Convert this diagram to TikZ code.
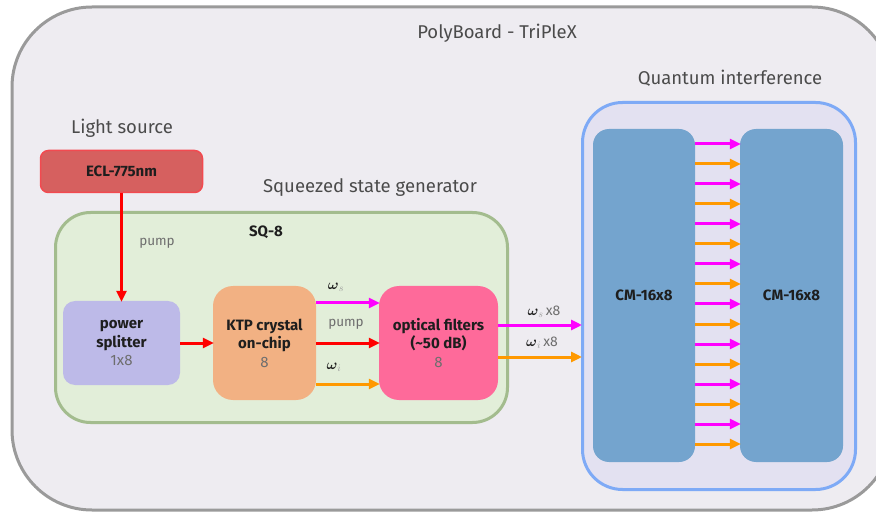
\documentclass[tikz,border=0pt]{standalone}
\usepackage{fontspec}
\setmainfont{Fira Sans}
\usepackage{amsmath}
\usetikzlibrary{arrows.meta,calc}

\definecolor{boardfill}{HTML}{EEECF1}
\definecolor{boardline}{HTML}{9A9A9A}
\definecolor{sqfill}{HTML}{E2EED9}
\definecolor{sqline}{HTML}{A3BC8E}
\definecolor{eclfill}{HTML}{D6605F}
\definecolor{eclline}{HTML}{F24A50}
\definecolor{psfill}{HTML}{BDBAE8}
\definecolor{ktpfill}{HTML}{F2B183}
\definecolor{filtfill}{HTML}{FE6A9A}
\definecolor{qifill}{HTML}{E3E1F1}
\definecolor{qiline}{HTML}{7EAAF6}
\definecolor{cmfill}{HTML}{74A4CE}
\definecolor{sigcol}{HTML}{FF00FF}
\definecolor{idlcol}{HTML}{FF9900}
\definecolor{pumpcol}{HTML}{FF0000}
\definecolor{txtdark}{HTML}{1E1E1E}
\definecolor{txtgray}{HTML}{6E6E6E}

\tikzset{
  block/.style={inner sep=0pt, align=center, text=txtdark,
    font=\fontsize{15}{18.5}\selectfont\bfseries},
  title/.style={inner sep=0pt, text=txtdark!80, font=\fontsize{18.5}{22}\selectfont},
  small/.style={inner sep=0pt, text=txtgray, font=\fontsize{13.5}{16}\selectfont},
  wlab/.style={inner sep=0pt, text=txtdark, font=\fontsize{14}{16}\selectfont},
  beam/.style={line width=3pt, -{Triangle[length=11pt,width=10pt]}, shorten >=-1pt},
  sig/.style={beam, draw=sigcol},
  idl/.style={beam, draw=idlcol},
  pmp/.style={beam, draw=pumpcol},
}
\newcommand{\numtxt}[1]{{\mdseries\color{txtgray}#1}}
\newcommand{\wsub}[1]{$\boldsymbol{\omega}_{\textcolor{txtgray!70}{\scriptstyle #1}}$}

\begin{document}
\begin{tikzpicture}[x=1pt,y=-1pt]
\useasboundingbox (0,0) rectangle (876,513);
\fill[white] (0,0) rectangle (876,513);

% the board outline runs past the right edge
\begin{scope}
  \clip (0,0) rectangle (876,513);
  \draw[line width=3pt, draw=boardline, fill=boardfill, rounded corners=80pt]
    (12,7) rectangle (892,510);
\end{scope}
\node[title] (board) at (497,33) {PolyBoard - TriPleX};

% light source
\node[title] (lslabel) at (122,128) {Light source};
\node[block, draw=eclline, line width=1.5pt, fill=eclfill, rounded corners=8pt,
      minimum width=162pt, minimum height=42pt] (ecl) at (121.5,171.5) {ECL-775nm};

% squeezed state generator
\node[title] (sqlabel) at (370,188) {Squeezed state generator};
\node[draw=sqline, line width=3pt, fill=sqfill, rounded corners=35pt,
      minimum width=452pt, minimum height=210pt] (sq) at (281.5,317.5) {};
\node[block] (sqname) at (266,232) {SQ-8};

\node[block, fill=psfill, rounded corners=12pt,
      minimum width=117pt, minimum height=84pt] (ps) at (121.5,343)
      {power\\splitter\\\numtxt{1x8}};
\node[block, fill=ktpfill, rounded corners=20pt,
      minimum width=103pt, minimum height=114pt] (ktp) at (264.5,343)
      {KTP crystal\\on-chip\\\numtxt{8}};
\node[block, fill=filtfill, rounded corners=20pt,
      minimum width=119pt, minimum height=114pt] (filt) at (438.5,343)
      {optical filters\\(\textasciitilde50 dB)\\\numtxt{8}};

% quantum interference
\node[title] (qilabel) at (730,78) {Quantum interference};
\node[draw=qiline, line width=3pt, fill=qifill, rounded corners=40pt,
      minimum width=273pt, minimum height=387pt] (qi) at (719,296) {};
\node[block, fill=cmfill, rounded corners=16pt,
      minimum width=102pt, minimum height=333pt] (cmL) at (644,295.5) {CM-16x8};
\node[block, fill=cmfill, rounded corners=16pt,
      minimum width=103pt, minimum height=333pt] (cmR) at (791.5,295.5) {CM-16x8};

% pump path
\draw[pmp] (ecl.south) -- (ps.north);
\node[small] (pumpA) at (157,243) {pump};
\draw[pmp] (ps.east) -- (ktp.west);

% KTP -> filters
\coordinate (ks) at (ktp.east |- 0,303);
\coordinate (kp) at (ktp.east |- 0,343);
\coordinate (ki) at (ktp.east |- 0,384);
\draw[sig] (ks) -- (filt.west |- ks);
\draw[pmp] (kp) -- (filt.west |- kp);
\draw[idl] (ki) -- (filt.west |- ki);
\node[wlab] (ws1) at (336,287) {\wsub{s}};
\node[small] (pumpB) at (346,324) {pump};
\node[wlab] (wi1) at (334,367) {\wsub{i}};

% filters -> interferometer
\coordinate (fs) at (filt.east |- 0,325);
\coordinate (fi) at (filt.east |- 0,357);
\draw[sig] (fs) -- (qi.west |- fs);
\draw[idl] (fi) -- (qi.west |- fi);
\node[wlab] (ws8) at (544,312) {\wsub{s}\,\textcolor{txtgray}{x8}};
\node[wlab] (wi8) at (542,343) {\wsub{i}\,\textcolor{txtgray}{x8}};

% 16 channels between the two meshes
\foreach \k in {0,...,15}{
  \pgfmathtruncatemacro{\odd}{mod(\k,2)}
  \pgfmathsetmacro{\yy}{144+20*\k}
  \coordinate (c\k) at (cmL.east |- 0,\yy);
  \ifnum\odd=0
    \draw[sig] (c\k) -- (cmR.west |- c\k);
  \else
    \draw[idl] (c\k) -- (cmR.west |- c\k);
  \fi
}
\end{tikzpicture}
\end{document}
